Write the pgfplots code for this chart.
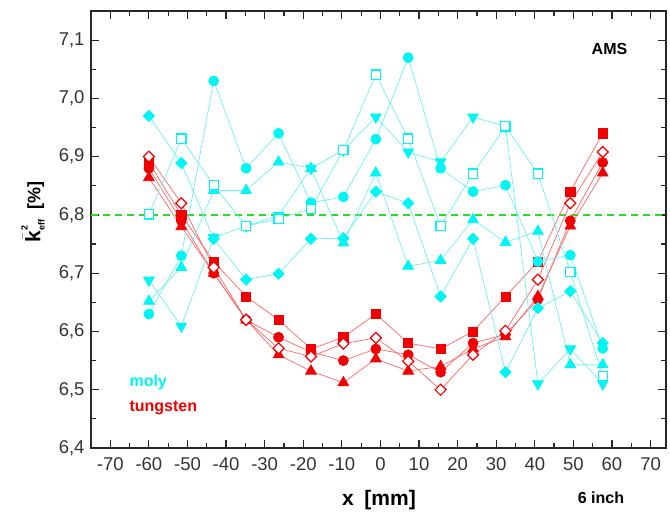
\documentclass[border=0pt]{standalone}
\usepackage{pgfplots}
\pgfplotsset{compat=1.18}
\usepackage{fontspec}
\setmainfont{Liberation Sans}

\definecolor{molymark}{RGB}{0,245,245}
\definecolor{molyline}{RGB}{110,240,240}
\definecolor{tungmark}{RGB}{240,0,0}
\definecolor{tungline}{RGB}{255,100,100}
\definecolor{refgreen}{RGB}{40,220,40}
\definecolor{axisgray}{RGB}{40,40,40}

\begin{document}
\begin{tikzpicture}[x=1pt,y=1pt]
\path[use as bounding box] (0,0) rectangle (670,516);
\begin{axis}[
  at={(91pt,68pt)}, anchor=south west,
  scale only axis, width=575pt, height=437pt,
  xmin=-75, xmax=74, ymin=6.4, ymax=7.15,
  xtick={-70,-60,-50,-40,-30,-20,-10,0,10,20,30,40,50,60,70},
  ytick={6.4,6.5,6.6,6.7,6.8,6.9,7.0,7.1},
  minor x tick num=1, minor y tick num=1,
  tick align=inside,
  major tick length=8pt, minor tick length=5pt,
  axis line style={line width=1.5pt, axisgray},
  every tick/.style={line width=1.2pt, axisgray},
  ticklabel style={font=\fontsize{18.5}{20}\selectfont, text=black!80},
  /pgf/number format/assume math mode=true,
  yticklabel style={/pgf/number format/.cd, fixed, fixed zerofill, precision=1, use comma},
  xticklabel style={/pgf/number format/.cd, fixed, precision=0},
  yticklabel shift=3pt, xticklabel shift=6pt,
  clip=false,
  rhomb/.style={mark=square*, mark size=4pt, mark options={rotate=45}},
]

% reference level
\addplot[refgreen, line width=1.3pt, dash pattern=on 7pt off 5pt] coordinates {(-75,6.8) (74,6.8)};

% ---------------- tungsten ----------------
\addplot[tungline, line width=0.7pt, mark=square*, mark size=4.6pt,
  mark options={solid, fill=tungmark, draw=tungmark}] coordinates {
(-60,6.89) (-51.6,6.80) (-43.2,6.72) (-34.8,6.66) (-26.4,6.62) (-18,6.57) (-9.6,6.59)
(-1.2,6.63) (7.2,6.58) (15.6,6.57) (24,6.60) (32.4,6.66) (40.8,6.72) (49.2,6.84) (57.6,6.94)};

\addplot[tungline, line width=0.7pt, mark=*, mark size=5pt,
  mark options={solid, fill=tungmark, draw=tungmark}] coordinates {
(-60,6.88) (-51.6,6.79) (-43.2,6.70) (-34.8,6.62) (-26.4,6.59) (-18,6.565) (-9.6,6.55)
(-1.2,6.57) (7.2,6.56) (15.6,6.53) (24,6.58) (32.4,6.595) (40.8,6.655) (49.2,6.79) (57.6,6.89)};

\addplot[tungline, line width=0.7pt, mark=triangle*, mark size=6.2pt,
  mark options={solid, fill=tungmark, draw=tungmark}] coordinates {
(-60,6.864) (-51.6,6.78) (-43.2,6.70) (-34.8,6.62) (-26.4,6.56) (-18,6.532) (-9.6,6.512)
(-1.2,6.553) (7.2,6.532) (15.6,6.54) (24,6.57) (32.4,6.591) (40.8,6.66) (49.2,6.781) (57.6,6.872)};

\addplot[tungline, line width=0.7pt, mark=square*, mark size=3.9pt,
  mark options={solid, rotate=45, fill=white, draw=tungmark, line width=1.2pt}] coordinates {
(-60,6.90) (-51.6,6.82) (-43.2,6.71) (-34.8,6.62) (-26.4,6.571) (-18,6.557) (-9.6,6.579)
(-1.2,6.589) (7.2,6.549) (15.6,6.50) (24,6.56) (32.4,6.601) (40.8,6.689) (49.2,6.82) (57.6,6.908)};

% ---------------- moly ----------------
\addplot[molyline, line width=0.7pt, mark=*, mark size=5pt,
  mark options={solid, fill=molymark, draw=molymark}] coordinates {
(-60,6.63) (-51.6,6.73) (-43.2,7.03) (-34.8,6.88) (-26.4,6.94) (-18,6.821) (-9.6,6.831)
(-1.2,6.93) (7.2,7.07) (15.6,6.88) (24,6.84) (32.4,6.851) (40.8,6.72) (49.2,6.731) (57.6,6.571)};

\addplot[molyline, line width=0.7pt, mark=square*, mark size=4pt,
  mark options={solid, rotate=45, fill=molymark, draw=molymark}] coordinates {
(-60,6.97) (-51.6,6.889) (-43.2,6.759) (-34.8,6.689) (-26.4,6.699) (-18,6.759) (-9.6,6.76)
(-1.2,6.84) (7.2,6.82) (15.6,6.66) (24,6.759) (32.4,6.53) (40.8,6.64) (49.2,6.669) (57.6,6.58)};

\addplot[molyline, line width=0.7pt, mark=triangle*, mark size=6.2pt,
  mark options={solid, fill=molymark, draw=molymark}] coordinates {
(-60,6.652) (-51.6,6.71) (-43.2,6.842) (-34.8,6.842) (-26.4,6.891) (-18,6.88) (-9.6,6.752)
(-1.2,6.872) (7.2,6.712) (15.6,6.722) (24,6.792) (32.4,6.753) (40.8,6.772) (49.2,6.543) (57.6,6.543)};

\addplot[molyline, line width=0.7pt, mark=triangle*, mark size=6.2pt,
  mark options={solid, fill=molymark, draw=molymark, rotate=180}] coordinates {
(-60,6.688) (-51.6,6.609) (-43.2,6.761) (-34.8,6.781) (-26.4,6.799) (-18,6.88) (-9.6,6.911)
(-1.2,6.968) (7.2,6.908) (15.6,6.891) (24,6.968) (32.4,6.952) (40.8,6.51) (49.2,6.57) (57.6,6.51)};

\addplot[molyline, line width=0.7pt, mark=square*, mark size=4.6pt,
  mark options={solid, fill=white, draw=molymark, line width=1.2pt}] coordinates {
(-60,6.801) (-51.6,6.931) (-43.2,6.851) (-34.8,6.781) (-26.4,6.793) (-18,6.811) (-9.6,6.911)
(-1.2,7.041) (7.2,6.931) (15.6,6.781) (24,6.871) (32.4,6.952) (40.8,6.871) (49.2,6.702) (57.6,6.523)};

\end{axis}

% annotations
\node[font=\bfseries\fontsize{16}{18}\selectfont] at (609.5,467) {AMS};
\node[anchor=west, font=\bfseries\fontsize{16}{18}\selectfont, text=molymark] at (126,134) {moly};
\node[anchor=west, font=\bfseries\fontsize{16}{18}\selectfont, text=tungmark] at (126,108) {tungsten};
\node[font=\bfseries\fontsize{21}{24}\selectfont] at (379,16) {x\,\,\,[mm]};
\node[font=\bfseries\fontsize{16}{18}\selectfont] at (601,18) {6 inch};
\node[rotate=90, font=\bfseries\fontsize{18}{20}\selectfont] at (33,304)
  {$\bar{\mbox{\fontsize{21}{22}\selectfont\bfseries k}}^{\mbox{\fontsize{9}{10}\selectfont\bfseries 2}}_{\mbox{\fontsize{9}{10}\selectfont\bfseries eff}}$\,\,\,[\%]};
\end{tikzpicture}
\end{document}
